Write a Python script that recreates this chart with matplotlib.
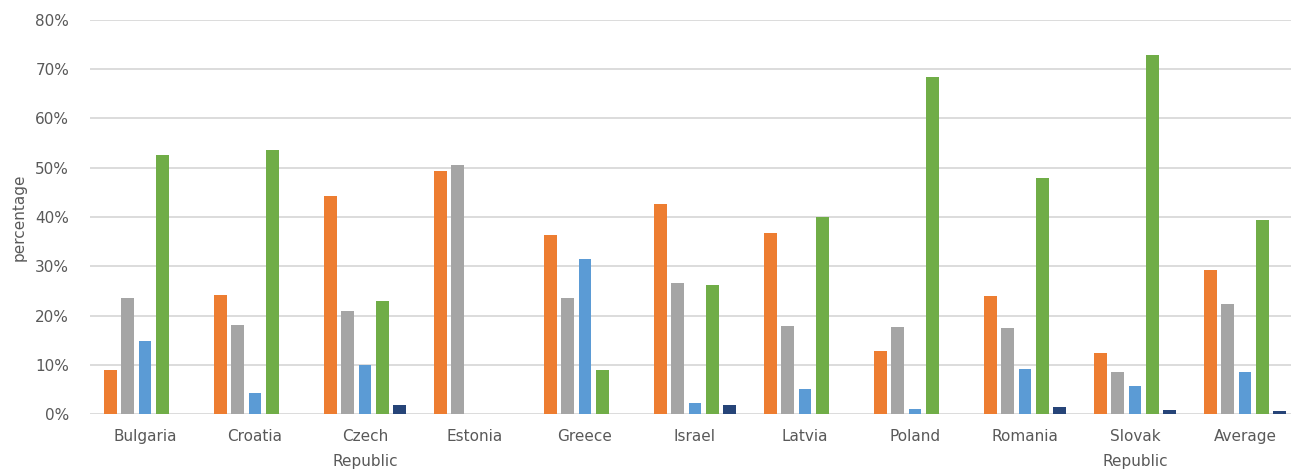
import matplotlib
matplotlib.use("Agg")
import matplotlib.pyplot as plt
import numpy as np
from matplotlib.ticker import FuncFormatter

categories = ["Bulgaria", "Croatia", "Czech\nRepublic", "Estonia", "Greece", "Israel",
              "Latvia", "Poland", "Romania", "Slovak\nRepublic", "Average"]
series_orange = [8.9, 24.1, 44.3, 49.4, 36.3, 42.7, 36.8, 12.7, 24.0, 12.3, 29.2]
series_gray   = [23.5, 18.1, 20.9, 50.6, 23.5, 26.7, 17.8, 17.6, 17.4, 8.5, 22.4]
series_blue   = [14.8, 4.2, 9.9, 0.0, 31.4, 2.3, 5.1, 1.0, 9.1, 5.6, 8.5]
series_green  = [52.5, 53.6, 23.0, 0.0, 8.9, 26.1, 39.9, 68.4, 47.9, 72.8, 39.3]
series_navy   = [0.0, 0.0, 1.8, 0.0, 0.0, 1.9, 0.0, 0.0, 1.5, 0.8, 0.6]
y_ticks = [0, 10, 20, 30, 40, 50, 60, 70, 80]

series = [series_orange, series_gray, series_blue, series_green, series_navy]
colors = ["#ED7D31", "#A5A5A5", "#5B9BD5", "#70AD47", "#264478"]

fig = plt.figure(figsize=(12.91, 4.72), dpi=100)
ax = fig.add_axes([90/1291, 1 - 414/472, 1210/1291, 394/472])

x = np.arange(len(categories))
pitch = 0.155
width = 0.118
for i, (vals, c) in enumerate(zip(series, colors)):
    ax.bar(x + (i - 2) * pitch, vals, width=width, color=c, zorder=3)

ax.set_ylim(0, 80)
ax.set_xlim(-0.5, 10.5)
ax.set_yticks(y_ticks)
ax.yaxis.set_major_formatter(FuncFormatter(lambda v, p: f"{int(v)}%"))
ax.grid(axis="y", color="#D9D9D9", linewidth=1.3, zorder=0)
for s in ax.spines.values():
    s.set_visible(False)
ax.tick_params(axis="both", length=0, colors="#595959", labelsize=11)
ax.tick_params(axis="y", pad=15)
ax.tick_params(axis="x", pad=11)
ax.set_xticks(x)
ax.set_xticklabels(categories, linespacing=1.85, va="top")
ax.set_ylabel("percentage", color="#595959", fontsize=11, labelpad=6)

fig.savefig("out.png", dpi=100)
